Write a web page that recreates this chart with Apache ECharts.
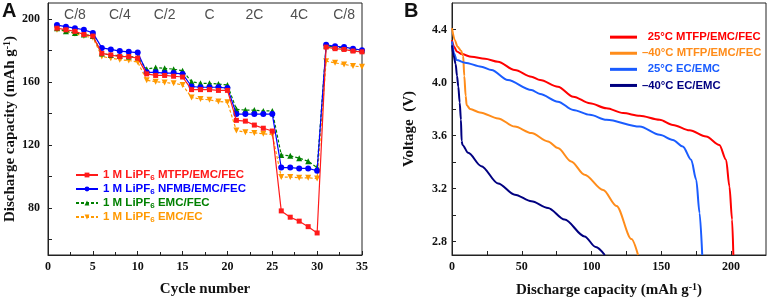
<!DOCTYPE html>
<html>
<head>
<meta charset="utf-8">
<script src="https://cdn.jsdelivr.net/npm/echarts@6/dist/echarts.min.js"></script>
<style>
  html, body { margin: 0; padding: 0; background: #fff; }
  #chart { width: 768px; height: 305px; }
</style>
</head>
<body>
<div id="chart"></div>
<script>
// panel A: rate capability
const cycles = [1, 2, 3, 4, 5, 6, 7, 8, 9, 10, 11, 12, 13, 14, 15, 16, 17, 18, 19, 20,
  21, 22, 23, 24, 25, 26, 27, 28, 29, 30, 31, 32, 33, 34, 35]
const mtfpCap = [194, 193, 192, 190, 189, 178, 177, 176, 176, 175, 165, 164, 164, 163.5, 163,
  155, 155, 155, 154.5, 154.5, 135.5, 135, 132.5, 130.5, 128.7, 78, 74, 71.5, 68, 64,
  182, 181, 180.5, 179.5, 179]
const nfmbCap = [196, 195, 194, 193, 191, 181.5, 180.5, 179.5, 179, 178.5, 166, 166, 165.5, 165.5, 165,
  157, 156.5, 156.5, 156.5, 156, 139.5, 139.5, 139.5, 139.5, 139.5, 105.5, 105.5, 105, 105, 103.5,
  183.5, 182.5, 182, 181, 180]
const emcFecCap = [194, 192, 191, 190, 189, 178, 177, 176.5, 176, 175.5, 168, 169, 168.5, 168, 167,
  160, 159, 159, 158.5, 158, 142.5, 142, 142, 141.5, 141.5, 113.5, 113, 111.5, 109.5, 105.5,
  183, 182, 181.5, 180.5, 180]
const emcEcCap = [193, 192, 190.5, 189, 188, 176, 175, 174, 173.5, 172.5, 161, 160, 159.5, 159, 158,
  150, 149, 148.5, 147.5, 147, 129, 128, 127.5, 127, 126.5, 99.5, 99.5, 99, 99, 98.5,
  173, 172, 171, 170, 169.5]
const rateNames = ['C/8', 'C/4', 'C/2', 'C', '2C', '4C', 'C/8']
const rateFirstCycle = [1, 6, 11, 16, 21, 26, 31]
const seriesNamesA = ['1 M LiPF6 MTFP/EMC/FEC', '1 M LiPF6 NFMB/EMC/FEC', '1 M LiPF6 EMC/FEC', '1 M LiPF6 EMC/EC']
const yTicksA = [60, 80, 100, 120, 140, 160, 180, 200]
const yLabelsA = [80, 120, 160, 200]

// panel B: discharge curves  [capacity, voltage]
const mtfp25 = [[0, 4.32], [1.5, 4.27], [3.5, 4.235], [6.9, 4.215], [14, 4.194], [23.6, 4.18], [32.9, 4.157],
  [45, 4.094], [56.9, 4.044], [63.1, 4.019], [75.9, 3.969], [86.9, 3.894], [98.8, 3.844], [110.7, 3.806],
  [122.6, 3.77], [134.5, 3.75], [148.8, 3.72], [158.3, 3.681], [170.2, 3.64], [182.1, 3.593], [191.6, 3.53],
  [196.4, 3.418], [198.8, 3.217], [200.7, 2.967], [201.6, 2.7]]
const mtfpM40 = [[0, 4.41], [2, 4.32], [4, 4.27], [6.5, 4.24], [8, 4.2], [8.8, 4.05], [9.8, 3.9], [10.5, 3.83],
  [13, 3.8], [20, 3.775], [33, 3.73], [45, 3.668], [56.9, 3.619], [68.8, 3.556], [75.9, 3.506], [85.4, 3.405],
  [95, 3.305], [108.3, 3.19], [117.9, 3.07], [128.6, 2.82], [133.3, 2.7]]
const ec25 = [[0, 4.31], [1.5, 4.22], [3.3, 4.17], [9.3, 4.15], [21, 4.12], [28.3, 4.094], [40, 4.019],
  [56.9, 3.944], [63.1, 3.914], [75.9, 3.856], [86.9, 3.794], [98.8, 3.757], [110.7, 3.719], [134.5, 3.668],
  [148.8, 3.606], [158.3, 3.568], [165.4, 3.518], [171.4, 3.418], [175, 3.268], [177.4, 3.017], [179.3, 2.7]]
const ecM40 = [[0, 4.28], [1.2, 4.2], [2.6, 4.14], [3.6, 4.05], [4.5, 3.97], [5.5, 3.85], [6.4, 3.72],
  [6.9, 3.56], [7.5, 3.53], [11.6, 3.47], [21, 3.37], [33, 3.24], [45, 3.155], [56.9, 3.105], [68.8, 3.055],
  [80.7, 2.967], [95, 2.84], [103, 2.76], [109.5, 2.7]]
const seriesNamesB = ['25°C MTFP/EMC/FEC', '–40°C MTFP/EMC/FEC', '25°C EC/EMC', '–40°C EC/EMC']
const xLabelsB = [0, 50, 100, 150, 200]
const xTicksB = [0, 25, 50, 75, 100, 125, 150, 175, 200]
const yTicksB = [2.8, 3.0, 3.2, 3.4, 3.6, 3.8, 4.0, 4.2, 4.4]
const yLabelsB = [2.8, 3.2, 3.6, 4.0, 4.4]

const colorsA = ['#ff1a1a', '#0000ff', '#008000', '#ff9900']
const colorsB = ['#ff0000', '#ff8c1a', '#1a5cff', '#000080']
const serif = 'Liberation Serif'
const sans = 'Liberation Sans'

const chart = echarts.init(document.getElementById('chart'))

function pairs(xs, ys) {
  return xs.map((x, i) => [x, ys[i]])
}

function legendItemA(name, color) {
  return {
    name,
    textStyle: {
      color,
      rich: {
        n: { color, fontFamily: sans, fontWeight: 'bold', fontSize: 11.5, lineHeight: 14 },
        s: { color, fontFamily: sans, fontWeight: 'bold', fontSize: 8, lineHeight: 14, verticalAlign: 'bottom', padding: [4, 0, 0, 0] },
      },
    },
  }
}

const baseAxis = {
  axisLine: { show: true, lineStyle: { color: '#222', width: 1 } },
  axisTick: { show: true, inside: true, length: 4, lineStyle: { color: '#222' } },
  axisLabel: { color: '#111', fontFamily: serif, fontWeight: 'bold', fontSize: 12 },
  splitLine: { show: false },
  nameLocation: 'middle',
  nameTextStyle: { color: '#111', fontFamily: serif, fontWeight: 'bold', fontSize: 15 },
}

const titleRich = {
  t: { fontFamily: serif, fontWeight: 'bold', fontSize: 15, color: '#111' },
  sup: { fontFamily: serif, fontWeight: 'bold', fontSize: 10, color: '#111', verticalAlign: 'top', padding: [0, 0, 7, 0] },
}

const symbolsA = ['rect', 'circle', 'triangle', 'path://M0,0 L10,0 L5,9 Z']
const sizesA = [5, 6, 6, 6]
const valuesA = [mtfpCap, nfmbCap, emcFecCap, emcEcCap]
const dashedA = [false, false, true, true]

const seriesA = valuesA.map((vals, i) => ({
  name: seriesNamesA[i],
  type: 'line',
  xAxisIndex: 0,
  yAxisIndex: 0,
  data: pairs(cycles, vals),
  symbol: symbolsA[i],
  symbolSize: sizesA[i],
  showAllSymbol: true,
  itemStyle: { color: colorsA[i] },
  lineStyle: { color: colorsA[i], width: 1.2, type: dashedA[i] ? [3, 2] : 'solid' },
  z: 3 + (3 - i),
}))

const rateSeries = {
  type: 'scatter',
  xAxisIndex: 0,
  yAxisIndex: 0,
  silent: true,
  symbolSize: 0,
  data: rateNames.map((name, i) => ({ value: [rateFirstCycle[i] + 2, 202], name })),
  label: {
    show: true,
    position: 'inside',
    formatter: (p) => p.name,
    color: '#222',
    fontFamily: sans,
    fontSize: 14,
  },
}

const curvesB = [mtfp25, mtfpM40, ec25, ecM40]
const seriesB = curvesB.map((pts, i) => ({
  name: seriesNamesB[i],
  type: 'line',
  xAxisIndex: 1,
  yAxisIndex: 1,
  data: pts,
  showSymbol: false,
  symbol: 'none',
  smooth: 0.3,
  smoothMonotone: 'x',
  lineStyle: { color: colorsB[i], width: 2 },
  itemStyle: { color: colorsB[i] },
}))

chart.setOption({
  backgroundColor: '#fff',
  animation: false,
  graphic: [
    { type: 'text', left: 2, top: 1, style: { text: 'A', font: 'bold 20px "Liberation Sans"', fill: '#111' } },
    { type: 'text', left: 404, top: 1, style: { text: 'B', font: 'bold 20px "Liberation Sans"', fill: '#111' } },
  ],
  grid: [
    { left: 48, right: 406, top: 3, bottom: 50, show: true, borderColor: '#222', borderWidth: 1, containLabel: false },
    { left: 452, right: 2, top: 3, bottom: 50, show: true, borderColor: '#222', borderWidth: 1, containLabel: false },
  ],
  legend: [
    {
      orient: 'vertical',
      left: 70,
      top: 164,
      itemWidth: 22,
      itemHeight: 6,
      itemGap: 1,
      selectedMode: false,
      data: seriesNamesA.map((n, i) => legendItemA(n, colorsA[i])),
      formatter: (name) => {
        const parts = name.split('LiPF6')
        return '{n|' + parts[0] + 'LiPF}{s|6}{n|' + parts[1] + '}'
      },
    },
    {
      orient: 'vertical',
      left: 605,
      top: 25,
      itemWidth: 27,
      itemHeight: 3,
      itemGap: 1.8,
      selectedMode: false,
      icon: 'rect',
      data: seriesNamesB.map((n, i) => ({
        name: n,
        textStyle: { color: colorsB[i], fontFamily: sans, fontWeight: 'bold', fontSize: 11.3, lineHeight: 14.3 },
      })),
      formatter: (name) => (name.startsWith('–') ? name : '\u2002' + name),
    },
  ],
  xAxis: [
    {
      ...baseAxis,
      type: 'value',
      gridIndex: 0,
      min: 0,
      max: 35,
      interval: 5,
      minorTick: { show: true, splitNumber: 2, length: 3, lineStyle: { color: '#222' } },
      axisLabel: { ...baseAxis.axisLabel, margin: 6 },
      name: 'Cycle number',
      nameGap: 27,
    },
    {
      ...baseAxis,
      type: 'value',
      gridIndex: 1,
      min: 0,
      max: 225,
      axisTick: { ...baseAxis.axisTick, customValues: xTicksB },
      axisLabel: { ...baseAxis.axisLabel, margin: 6, customValues: xLabelsB },
      name: '{t|Discharge capacity (mAh g}{sup|-1}{t|)}',
      nameGap: 27,
      nameTextStyle: { ...baseAxis.nameTextStyle, rich: titleRich },
    },
  ],
  yAxis: [
    {
      ...baseAxis,
      type: 'value',
      gridIndex: 0,
      min: 50,
      max: 210,
      axisTick: { ...baseAxis.axisTick, customValues: yTicksA },
      axisLabel: { ...baseAxis.axisLabel, margin: 8, customValues: yLabelsA },
      name: '{t|Discharge capacity (mAh g}{sup|-1}{t|)}',
      nameGap: 28,
      nameTextStyle: { ...baseAxis.nameTextStyle, rich: titleRich },
    },
    {
      ...baseAxis,
      type: 'value',
      gridIndex: 1,
      min: 2.7,
      max: 4.6,
      axisTick: { ...baseAxis.axisTick, customValues: yTicksB },
      axisLabel: { ...baseAxis.axisLabel, margin: 5, customValues: yLabelsB, formatter: (v) => v.toFixed(1) },
      name: 'Voltage  (V)',
      nameGap: 35,
    },
  ],
  series: [...seriesA, rateSeries, ...seriesB],
})
</script>
</body>
</html>
